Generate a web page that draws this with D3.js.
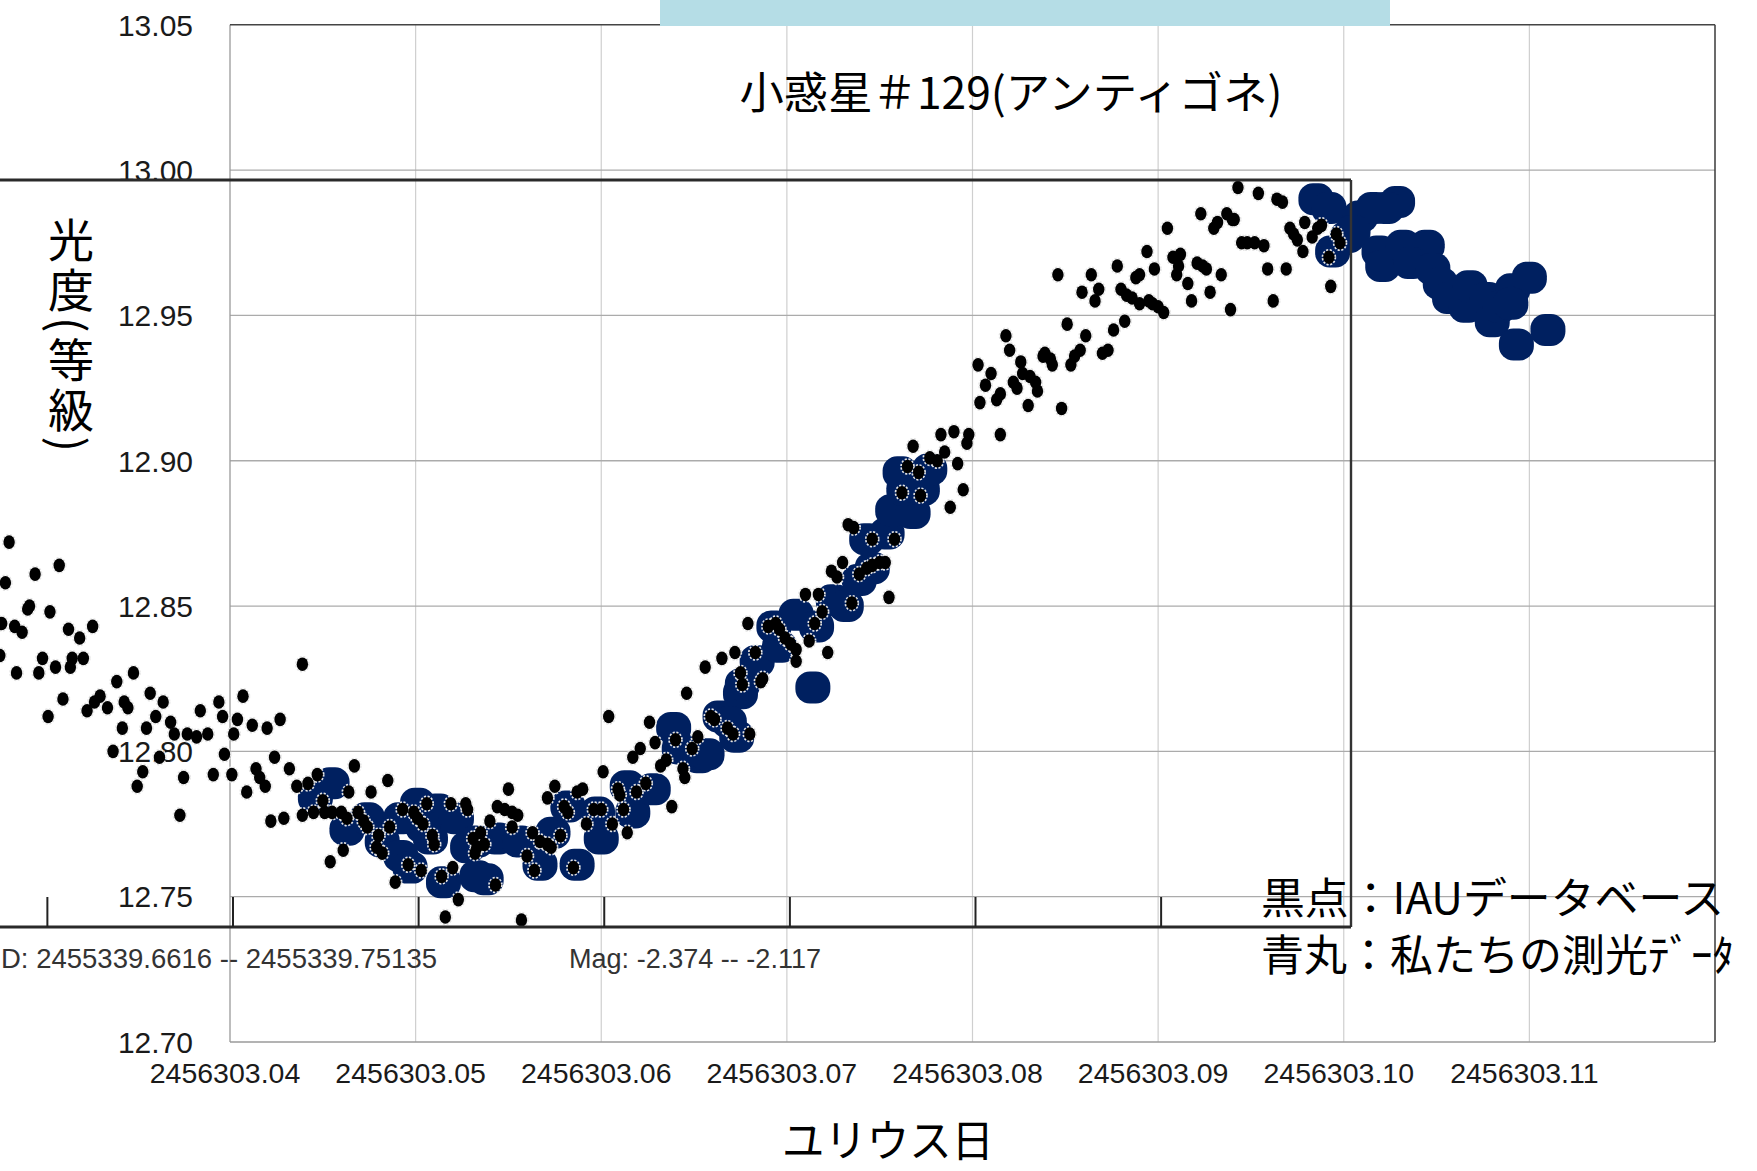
<!DOCTYPE html>
<html><head><meta charset="utf-8">
<script src="https://cdn.jsdelivr.net/npm/d3@7"></script>
<style>
html,body{margin:0;padding:0;background:#fff;overflow:hidden}
svg{display:block}
</style></head>
<body>
<svg id="chart" width="1757" height="1171"></svg>
<script>
// ---------- DATA ----------
const jdBase = 2456303;                 // x values are JD - 2456303
const xTicks = [0.04,0.05,0.06,0.07,0.08,0.09,0.10,0.11];
const yTicks = [12.70,12.75,12.80,12.85,12.90,12.95,13.00,13.05];
const overlayTicks = [0.03,0.04,0.05,0.06,0.07,0.08,0.09];

// black dots : IAU database
const iauT = [0.0281,0.0308,0.0295,0.0279,0.0292,0.0291,0.0303,0.0277,0.0284,0.0288,0.0313,0.0326,0.0319,0.0276,0.0299,0.0306,0.0285,0.0297,0.0315,0.0321,
0.0314,0.0348,0.0339,0.0310,0.0302,0.0323,0.0330,0.0334,0.0327,0.0343,0.0345,0.0357,0.0364,0.0342,0.0355,0.0360,0.0368,0.0370,0.0377,0.0382,
0.0388,0.0384,0.0394,0.0396,0.0407,0.0404,0.0412,0.0420,0.0427,0.0439,0.0402,0.0337,0.0362,0.0353,0.0350,0.0375,0.0373,0.0397,0.0391,0.0401,
0.0409,0.0414,0.0416,0.0419,0.0424,0.0432,0.0436,0.0442,0.0447,0.0422,0.0429,0.0439,0.0445,0.0467,0.0464,0.0450,0.0451,0.0455,0.0460,0.0463,
0.0469,0.0472,0.0474,0.0476,0.0485,0.0454,0.0461,0.0480,0.0479,0.0482,0.0486,0.0489,0.0496,0.0493,0.0499,0.0501,0.0506,0.0509,0.0510,0.0503,
0.0519,0.0527,0.0528,0.0514,0.0520,0.0523,0.0516,0.0531,0.0533,0.0504,0.0535,0.0537,0.0532,0.0540,0.0543,0.0544,0.0548,0.0552,0.0550,0.0552,
0.0555,0.0557,0.0560,0.0563,0.0567,0.0571,0.0573,0.0564,0.0571,0.0575,0.0578,0.0580,0.0582,0.0585,0.0587,0.0590,0.0592,0.0596,0.0600,0.0601,
0.0604,0.0606,0.0609,0.0610,0.0612,0.0614,0.0617,0.0619,0.0621,0.0624,0.0626,0.0629,0.0632,0.0635,0.0638,0.0640,0.0644,0.0645,0.0646,0.0649,
0.0652,0.0659,0.0661,0.0668,0.0671,0.0676,0.0680,0.0686,0.0656,0.0665,0.0672,0.0675,0.0679,0.0683,0.0687,0.0690,0.0694,0.0696,0.0699,0.0702,
0.0705,0.0705,0.0710,0.0715,0.0717,0.0719,0.0712,0.0722,0.0724,0.0727,0.0730,0.0733,0.0736,0.0735,0.0739,0.0743,0.0746,0.0750,0.0753,0.0746,
0.0755,0.0758,0.0762,0.0765,0.0768,0.0772,0.0771,0.0777,0.0781,0.0785,0.0788,0.0792,0.0795,0.0797,0.0804,0.0813,0.0830,0.0848,0.0783,0.0790,
0.0798,0.0815,0.0818,0.0820,0.0815,0.0826,0.0827,0.0822,0.0824,0.0831,0.0834,0.0835,0.0838,0.0839,0.0842,0.0843,0.0851,0.0853,0.0855,0.0858,
0.0861,0.0870,0.0873,0.0876,0.0882,0.0846,0.0859,0.0864,0.0868,0.0866,0.0878,0.0880,0.0883,0.0886,0.0888,0.0890,0.0890,0.0895,0.0897,0.0900,
0.0903,0.0894,0.0898,0.0905,0.0908,0.0912,0.0911,0.0910,0.0916,0.0918,0.0921,0.0924,0.0926,0.0923,0.0928,0.0930,0.0932,0.0934,0.0937,0.0940,
0.0941,0.0939,0.0943,0.0945,0.0948,0.0952,0.0957,0.0954,0.0959,0.0962,0.0964,0.0967,0.0969,0.0971,0.0973,0.0975,0.0978,0.0979,0.0983,0.0986,
0.0988,0.0992,0.0993,0.0996,0.0998,0.0803,0.0807,0.0810];
const iauMag = [12.872,12.864,12.861,12.858,12.850,12.849,12.848,12.844,12.843,12.841,12.842,12.843,12.839,12.833,12.832,12.829,12.827,12.827,12.832,12.832,
12.829,12.827,12.824,12.818,12.812,12.814,12.819,12.815,12.817,12.817,12.815,12.820,12.817,12.808,12.808,12.812,12.810,12.806,12.806,12.805,
12.806,12.814,12.817,12.812,12.819,12.811,12.809,12.808,12.811,12.830,12.806,12.800,12.798,12.793,12.788,12.791,12.778,12.799,12.792,12.792,
12.786,12.794,12.791,12.788,12.798,12.794,12.788,12.789,12.792,12.776,12.777,12.778,12.779,12.795,12.786,12.783,12.779,12.779,12.779,12.777,
12.779,12.776,12.774,12.786,12.790,12.762,12.766,12.771,12.767,12.765,12.774,12.755,12.761,12.780,12.779,12.777,12.782,12.771,12.768,12.759,
12.782,12.782,12.780,12.757,12.760,12.749,12.743,12.770,12.767,12.775,12.772,12.768,12.765,12.776,12.754,12.781,12.780,12.779,12.787,12.774,
12.778,12.742,12.764,12.772,12.769,12.768,12.767,12.759,12.784,12.788,12.771,12.781,12.779,12.760,12.786,12.787,12.775,12.780,12.780,12.793,
12.812,12.775,12.787,12.785,12.780,12.772,12.798,12.786,12.801,12.789,12.810,12.803,12.795,12.797,12.781,12.804,12.794,12.791,12.820,12.801,
12.805,12.812,12.811,12.808,12.806,12.823,12.806,12.824,12.829,12.832,12.834,12.827,12.844,12.834,12.825,12.843,12.844,12.842,12.839,12.837,
12.835,12.831,12.854,12.844,12.854,12.848,12.838,12.834,12.862,12.860,12.865,12.878,12.877,12.851,12.861,12.863,12.864,12.865,12.865,12.873,
12.853,12.873,12.889,12.898,12.905,12.888,12.896,12.901,12.900,12.903,12.884,12.899,12.890,12.906,12.920,12.921,12.919,12.918,12.909,12.910,
12.909,12.909,12.943,12.938,12.923,12.934,12.930,12.927,12.925,12.929,12.927,12.924,12.936,12.937,12.935,12.933,12.947,12.933,12.936,12.938,
12.943,12.937,12.938,12.945,12.948,12.964,12.958,12.964,12.959,12.955,12.967,12.959,12.957,12.956,12.963,12.964,12.954,12.955,12.954,12.953,
12.951,12.972,12.966,12.980,12.970,12.971,12.967,12.964,12.961,12.955,12.968,12.967,12.966,12.985,12.958,12.980,12.982,12.964,12.985,12.983,
12.983,12.952,12.994,12.975,12.975,12.975,12.974,12.992,12.966,12.955,12.990,12.989,12.966,12.980,12.978,12.976,12.972,12.982,12.977,12.980,
12.981,12.970,12.960,12.978,12.975,12.933,12.926,12.930];

// blue marks : our photometry
const ourT = [0.0446,0.0455,0.0463,0.0474,0.0482,0.0492,0.0497,0.0501,0.0512,0.0522,0.0508,0.0515,0.0528,0.0533,0.0504,0.0538,0.0533,0.0544,0.0556,0.0567,
0.0574,0.0587,0.0582,0.0600,0.0598,0.0614,0.0617,0.0628,0.0639,0.0642,0.0653,0.0664,0.0675,0.0673,0.0714,0.0657,0.0669,0.0676,0.0684,0.0696,
0.0693,0.0705,0.0716,0.0725,0.0732,0.0739,0.0746,0.0743,0.0754,0.0757,0.0768,0.0763,0.0773,0.0761,0.0777,0.0985,0.0992,0.0994,0.1002,0.1009,
0.1016,0.1029,0.1019,0.1021,0.1032,0.1045,0.1036,0.1048,0.1052,0.1057,0.1066,0.1068,0.1077,0.1080,0.1084,0.1091,0.1100,0.1090,0.1093,0.1110,
0.1005,0.1023,0.0492];
const ourMag = [12.784,12.789,12.773,12.777,12.769,12.764,12.760,12.782,12.780,12.777,12.770,12.755,12.767,12.757,12.774,12.756,12.769,12.770,12.769,12.761,
12.772,12.761,12.781,12.770,12.779,12.788,12.779,12.787,12.808,12.801,12.798,12.812,12.820,12.805,12.822,12.799,12.810,12.823,12.831,12.836,
12.843,12.847,12.843,12.852,12.850,12.859,12.863,12.873,12.875,12.883,12.882,12.890,12.890,12.896,12.897,12.990,12.987,12.972,12.977,12.984,
12.987,12.989,12.972,12.967,12.974,12.974,12.968,12.966,12.961,12.956,12.953,12.960,12.956,12.948,12.953,12.959,12.963,12.954,12.940,12.945,
12.979,12.987,12.777];

const titleText = "小惑星＃129(アンティゴネ)";
const yTitle = "光度(等級)";
const xTitle = "ユリウス日";
const legendLines = ["黒点：IAUデータベース","青丸：私たちの測光ﾃﾞｰﾀ"];
const overlayNotes = ["D: 2455339.6616 -- 2455339.75135","Mag: -2.374 -- -2.117"];

// ---------- LAYOUT ----------
const W = 1757, H = 1171;
const L = 230, R = 1715, T = 24.8, B = 1042;
const svg = d3.select("#chart");
const NUM = "'Liberation Sans', Arial, sans-serif";
const JP = "'Noto Sans CJK JP', 'Noto Sans', sans-serif";
const BLUE = "#002060";

const x = d3.scaleLinear().domain([jdBase + 0.04, jdBase + 0.12]).range([L, R]);
const y = d3.scaleLinear().domain([12.70, 13.05]).range([B, T]);

svg.append("rect").attr("width", W).attr("height", H).attr("fill", "#fff");

// grid
const g = svg.append("g");
g.selectAll("line.vg").data(xTicks.slice(1)).join("line")
  .attr("x1", d => x(jdBase + d)).attr("x2", d => x(jdBase + d))
  .attr("y1", T).attr("y2", B).attr("stroke", "#cfcfcf").attr("stroke-width", 1.2);
g.selectAll("line.hg").data(yTicks.slice(1, -1)).join("line")
  .attr("x1", L).attr("x2", R).attr("y1", d => y(d)).attr("y2", d => y(d))
  .attr("stroke", "#ababab").attr("stroke-width", 1.3);
// frame
g.append("line").attr("x1", L).attr("x2", L).attr("y1", T).attr("y2", B).attr("stroke", "#9a9a9a").attr("stroke-width", 1.3);
g.append("line").attr("x1", L).attr("x2", R).attr("y1", B).attr("y2", B).attr("stroke", "#9a9a9a").attr("stroke-width", 1.3);
g.append("line").attr("x1", R).attr("x2", R).attr("y1", T).attr("y2", B).attr("stroke", "#3a3a3a").attr("stroke-width", 1.5);
g.append("line").attr("x1", L).attr("x2", R).attr("y1", T).attr("y2", T).attr("stroke", "#444").attr("stroke-width", 1.5);

// y tick labels
svg.append("g").selectAll("text").data(yTicks).join("text")
  .attr("x", 193).attr("y", d => y(d)).attr("dy", "0.36em")
  .attr("text-anchor", "end").attr("font-family", NUM).attr("font-size", 30)
  .attr("fill", "#1a1a1a").text(d => d3.format(".2f")(d));

// x tick labels
svg.append("g").selectAll("text").data(xTicks).join("text")
  .attr("x", d => x(jdBase + d) - 5).attr("y", 1083)
  .attr("text-anchor", "middle").attr("font-family", NUM).attr("font-size", 28.5)
  .attr("fill", "#1a1a1a").text(d => d3.format(".2f")(jdBase + d));

// axis titles
svg.append("text").attr("x", 71).attr("y", 217)
  .attr("font-family", JP).attr("font-size", 46).attr("fill", "#000")
  .style("writing-mode", "vertical-rl").style("text-orientation", "mixed")
  .style("letter-spacing", "4px")
  .text(yTitle);

svg.append("text").attr("x", 888).attr("y", 1138).attr("dominant-baseline", "central")
  .attr("text-anchor", "middle").attr("font-family", JP).attr("font-size", 44)
  .attr("textLength", 212).attr("lengthAdjust", "spacingAndGlyphs")
  .attr("fill", "#000").text(xTitle);

// blue marks (our photometry)
const ourData = ourT.map((t, i) => ({t, m: ourMag[i]}));
svg.append("g").selectAll("rect").data(ourData).join("rect")
  .attr("x", d => x(jdBase + d.t) - 17.5).attr("y", d => y(d.m) - 16)
  .attr("width", 35).attr("height", 32).attr("rx", 14.5).attr("ry", 14.5)
  .attr("fill", BLUE);

// overlay (pasted IAU plot): dots
const iauData = iauT.map((t, i) => ({t, m: iauMag[i]}));
const ov = svg.append("g");
ov.append("g").selectAll("ellipse").data(iauData).join("ellipse")
  .attr("cx", d => x(jdBase + d.t)).attr("cy", d => y(d.m))
  .attr("rx", 6.1).attr("ry", 7.1).attr("fill", "none")
  .attr("stroke", "#e4e4e4").attr("stroke-width", 2.4).attr("stroke-dasharray", "2 1.5");
ov.append("g").selectAll("ellipse").data(iauData).join("ellipse")
  .attr("cx", d => x(jdBase + d.t)).attr("cy", d => y(d.m))
  .attr("rx", 5.7).attr("ry", 6.8).attr("fill", "#000");

// overlay frame
const OT = 180, OB = 927, OR = 1351;
ov.append("line").attr("x1", 0).attr("x2", OR).attr("y1", OT).attr("y2", OT).attr("stroke", "#2a2a2a").attr("stroke-width", 2.8);
ov.append("line").attr("x1", OR).attr("x2", OR).attr("y1", OT).attr("y2", OB).attr("stroke", "#333").attr("stroke-width", 2.4);
ov.append("line").attr("x1", 0).attr("x2", OR).attr("y1", OB).attr("y2", OB).attr("stroke", "#2a2a2a").attr("stroke-width", 2.8);
ov.append("g").selectAll("line").data(overlayTicks).join("line")
  .attr("x1", d => x(jdBase + d) + 3).attr("x2", d => x(jdBase + d) + 3)
  .attr("y1", OB).attr("y2", OB - 30).attr("stroke", "#222").attr("stroke-width", 2);
ov.append("text").attr("x", 1).attr("y", 958).attr("dy", "0.36em")
  .attr("font-family", NUM).attr("font-size", 27).attr("fill", "#333")
  .attr("textLength", 436).attr("lengthAdjust", "spacingAndGlyphs").text(overlayNotes[0]);
ov.append("text").attr("x", 569).attr("y", 958).attr("dy", "0.36em")
  .attr("font-family", NUM).attr("font-size", 27).attr("fill", "#333")
  .attr("textLength", 252).attr("lengthAdjust", "spacingAndGlyphs").text(overlayNotes[1]);

// light blue header bar
svg.append("rect").attr("x", 660).attr("y", 0).attr("width", 730).attr("height", 26).attr("fill", "#b5dde6");

// title
svg.append("text").attr("x", 1011).attr("y", 90).attr("dominant-baseline", "central")
  .attr("text-anchor", "middle").attr("font-family", JP).attr("font-size", 44)
  .attr("textLength", 543).attr("lengthAdjust", "spacingAndGlyphs")
  .attr("fill", "#000").text(titleText);

// legend
const leg = svg.append("g");
leg.append("text").attr("x", 1261).attr("y", 895).attr("dominant-baseline", "central")
  .attr("font-family", JP).attr("font-size", 43).attr("fill", "#000")
  .attr("textLength", 463).attr("lengthAdjust", "spacingAndGlyphs").text(legendLines[0]);
leg.append("text").attr("x", 1261).attr("y", 952).attr("dominant-baseline", "central")
  .attr("font-family", JP).attr("font-size", 43).attr("fill", "#000").text(legendLines[1]);
</script>
</body></html>
